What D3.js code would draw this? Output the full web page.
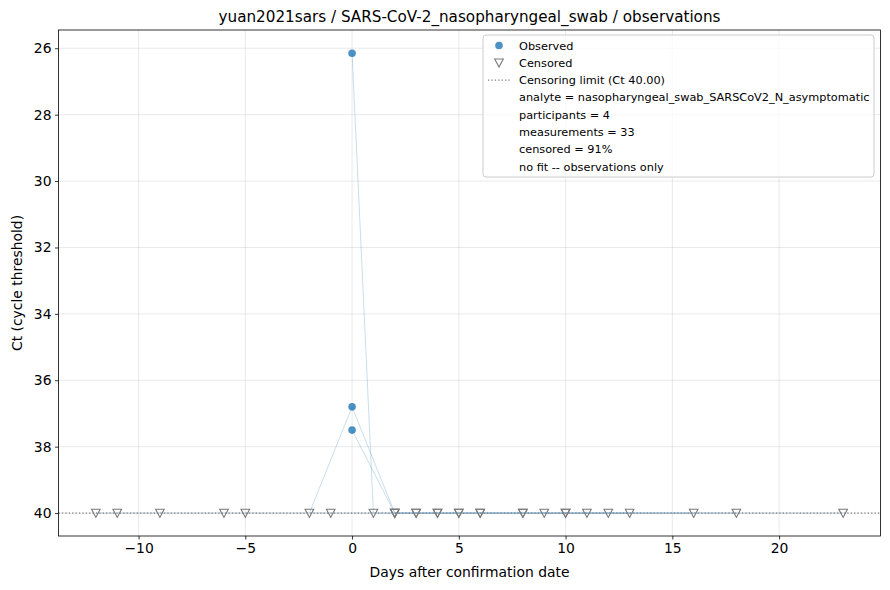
<!DOCTYPE html>
<html>
<head>
<meta charset="utf-8">
<script src="https://cdn.jsdelivr.net/npm/d3@7/dist/d3.min.js"></script>
<style>
  body { margin: 0; background: #fff; }
  svg { font-family: "DejaVu Sans", sans-serif; }
</style>
</head>
<body>
<svg width="890" height="590"></svg>
<script>
// one array per participant: sampling day and Ct (40 = censored, below limit)
var participants = ["P1", "P2", "P3", "P4"];
var participantDays = [
  [-2, 0, 2, 4, 6, 8, 10, 12, 16],
  [0, 2, 3, 5, 9, 11, 13],
  [0, 1, 2, 3, 4, 5, 6, 8, 10, 18],
  [-12, -11, -9, -6, -5, -1, 23]
];
var participantCt = [
  [40, 36.8, 40, 40, 40, 40, 40, 40, 40],
  [37.5, 40, 40, 40, 40, 40, 40],
  [26.15, 40, 40, 40, 40, 40, 40, 40, 40, 40],
  [40, 40, 40, 40, 40, 40, 40]
];
var censorLimit = 40;
var xTicks = [-10, -5, 0, 5, 10, 15, 20];
var yTicks = [26, 28, 30, 32, 34, 36, 38, 40];
var legendLines = [
  "Observed",
  "Censored",
  "Censoring limit (Ct 40.00)",
  "analyte = nasopharyngeal_swab_SARSCoV2_N_asymptomatic",
  "participants = 4",
  "measurements = 33",
  "censored = 91%",
  "no fit -- observations only"
];

var svg = d3.select("svg");
// plot box (named to avoid clashing with window.top)
var axL = 58.5, axR = 880.5, axT = 30, axB = 536;

var x = d3.scaleLinear().domain([-13.75, 24.75]).range([axL, axR]);
var y = d3.scaleLinear().domain([25.45, 40.69]).range([axT, axB]);

// gridlines
svg.append("g").selectAll("line").data(xTicks).enter().append("line")
  .attr("x1", function(d){ return x(d); }).attr("x2", function(d){ return x(d); })
  .attr("y1", axT).attr("y2", axB)
  .attr("stroke", "#b0b0b0").attr("stroke-opacity", 0.35).attr("stroke-width", 0.8);
svg.append("g").selectAll("line").data(yTicks).enter().append("line")
  .attr("x1", axL).attr("x2", axR)
  .attr("y1", function(d){ return y(d); }).attr("y2", function(d){ return y(d); })
  .attr("stroke", "#b0b0b0").attr("stroke-opacity", 0.35).attr("stroke-width", 0.8);

// build point list
var points = [];
participants.forEach(function(p, i) {
  participantDays[i].forEach(function(d, j) {
    points.push({p: p, day: d, ct: participantCt[i][j], censored: participantCt[i][j] >= censorLimit});
  });
});

// participant trajectories
var line = d3.line().x(function(d){ return x(d[0]); }).y(function(d){ return y(d[1]); });
participants.forEach(function(p, i) {
  svg.append("path")
    .datum(d3.zip(participantDays[i], participantCt[i]))
    .attr("d", line)
    .attr("fill", "none")
    .attr("stroke", "#1f77b4")
    .attr("stroke-opacity", 0.3)
    .attr("stroke-width", 0.8);
});

// censoring limit
svg.append("line")
  .attr("x1", axL).attr("x2", axR)
  .attr("y1", y(censorLimit)).attr("y2", y(censorLimit))
  .attr("stroke", "#808080").attr("stroke-width", 1.3)
  .attr("stroke-dasharray", "1.3,2.1");

var tri = function(cx, cy) {
  return "M" + (cx - 4.3) + "," + (cy - 3.8) + "L" + (cx + 4.3) + "," + (cy - 3.8) + "L" + cx + "," + (cy + 4.3) + "Z";
};

svg.append("g").selectAll("path")
  .data(points.filter(function(d){ return d.censored; })).enter().append("path")
  .attr("d", function(d){ return tri(x(d.day), y(d.ct)); })
  .attr("fill", "none").attr("stroke", "#7a7a7a").attr("stroke-width", 1.1);

svg.append("g").selectAll("circle")
  .data(points.filter(function(d){ return !d.censored; })).enter().append("circle")
  .attr("cx", function(d){ return x(d.day); })
  .attr("cy", function(d){ return y(d.ct); })
  .attr("r", 3.8)
  .attr("fill", "#1f77b4").attr("fill-opacity", 0.8);

// axes
var xAxis = d3.axisBottom(x).tickValues(xTicks).tickSize(3.5).tickPadding(3.5)
  .tickFormat(function(d){ return d < 0 ? "\u2212" + Math.abs(d) : d; });
var yAxis = d3.axisLeft(y).tickValues(yTicks).tickSize(3.5).tickPadding(3.5);

var gx = svg.append("g").attr("transform", "translate(0," + axB + ")").call(xAxis);
var gy = svg.append("g").attr("transform", "translate(" + axL + ",0)").call(yAxis);
[gx, gy].forEach(function(g) {
  g.select(".domain").remove();
  g.selectAll("line").attr("stroke", "#000").attr("stroke-width", 0.8);
  g.selectAll("text").attr("font-size", "13.9px").attr("fill", "#000")
    .attr("font-family", "DejaVu Sans, sans-serif");
});

svg.append("rect")
  .attr("x", axL).attr("y", axT)
  .attr("width", axR - axL).attr("height", axB - axT)
  .attr("fill", "none").attr("stroke", "#000").attr("stroke-width", 0.8);

// titles
svg.append("text")
  .attr("x", (axL + axR) / 2).attr("y", 22)
  .attr("text-anchor", "middle").style("font-size", "15.2px")
  .text("yuan2021sars / SARS-CoV-2_nasopharyngeal_swab / observations");
svg.append("text")
  .attr("x", (axL + axR) / 2).attr("y", 577)
  .attr("text-anchor", "middle").style("font-size", "13.9px")
  .text("Days after confirmation date");
svg.append("text")
  .attr("transform", "translate(22," + ((axT + axB) / 2) + ") rotate(-90)")
  .attr("text-anchor", "middle").style("font-size", "13.9px")
  .text("Ct (cycle threshold)");

// legend
var lg = svg.append("g");
lg.append("rect")
  .attr("x", 483).attr("y", 35).attr("width", 391).attr("height", 142).attr("rx", 3)
  .attr("fill", "#fff").attr("fill-opacity", 0.8)
  .attr("stroke", "#cccccc").attr("stroke-width", 1);
var rowY = function(i){ return 45.5 + i * 17.3; };
lg.selectAll("text").data(legendLines).enter().append("text")
  .attr("x", 519).attr("y", function(d, i){ return rowY(i) + 4; })
  .style("font-size", "11.3px")
  .text(function(d){ return d; });
lg.append("circle").attr("cx", 499).attr("cy", rowY(0)).attr("r", 3.8)
  .attr("fill", "#1f77b4").attr("fill-opacity", 0.8);
lg.append("path").attr("d", tri(499, rowY(1)))
  .attr("fill", "none").attr("stroke", "#7a7a7a").attr("stroke-width", 1.1);
lg.append("line").attr("x1", 488).attr("x2", 510).attr("y1", rowY(2)).attr("y2", rowY(2))
  .attr("stroke", "#808080").attr("stroke-width", 1.3).attr("stroke-dasharray", "1.3,2.1");
</script>
</body>
</html>
